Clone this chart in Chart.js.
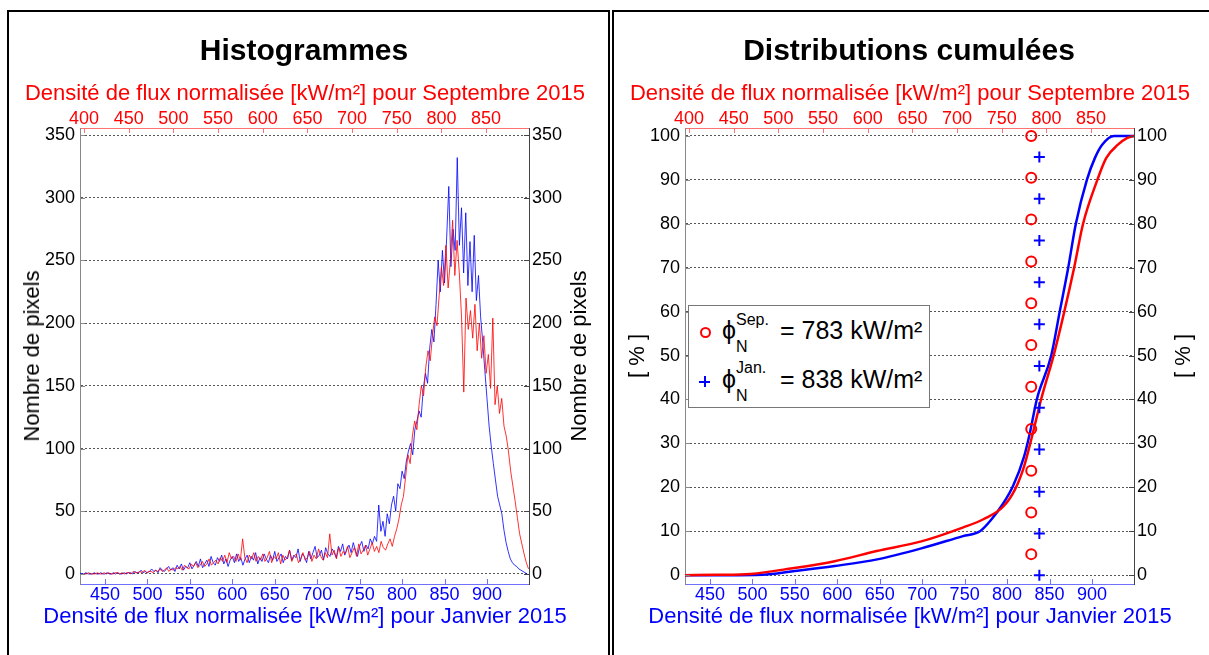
<!DOCTYPE html>
<html lang="fr">
<head>
<meta charset="UTF-8">
<title>Histogrammes et distributions cumulées</title>
<script src="https://cdn.jsdelivr.net/npm/chart.js"></script>
<style>
  body { margin: 0; width: 1209px; height: 655px; overflow: hidden; background: #fff; position: relative;
         font-family: "Liberation Sans", Arial, sans-serif; }
  .panel { position: absolute; top: 10px; height: 660px; border: 2px solid #000; box-sizing: border-box; }
  #p1 { left: 7px; width: 603px; }
  #p2 { left: 612px; width: 610px; }
  canvas { position: absolute; top: 0; }
  .txt { position: absolute; white-space: nowrap; transform: translate(-50%, -50%); }
  .main { font-size: 30px; font-weight: bold; }
  .ax { font-size: 22px; }
  .red { color: #f00; }
  .blue { color: #00f; }
  .vert { transform: translate(-50%, -50%) rotate(-90deg); }
  #legend { position: absolute; left: 688px; top: 305px; width: 242px; height: 103px; box-sizing: border-box;
            border: 1px solid #777; background: #fff; }
  #legend span { position: absolute; white-space: nowrap; line-height: 1; }
  .big { font-size: 25px; }
  .small { font-size: 16px; }
  .mk-o { width: 7px; height: 7px; border: 2px solid #f00; border-radius: 50%; }
  .mk-p { width: 11px; height: 11px; }
  .mk-p::before, .mk-p::after { content: ""; position: absolute; background: #00f; }
  .mk-p::before { left: 0; top: 4.5px; width: 11px; height: 2px; }
  .mk-p::after { left: 4.5px; top: 0; width: 2px; height: 11px; }
</style>
</head>
<body>
  <div class="panel" id="p1"></div>
  <div class="panel" id="p2"></div>

  <canvas id="histChart" width="605" height="655" style="left:0"></canvas>
  <canvas id="cumChart" width="604" height="655" style="left:605px"></canvas>

  <div class="txt main" style="left:304px; top:50px">Histogrammes</div>
  <div class="txt ax red" style="left:305px; top:93px">Densité de flux normalisée [kW/m²] pour Septembre 2015</div>
  <div class="txt ax blue" style="left:305px; top:616px">Densité de flux normalisée [kW/m²] pour Janvier 2015</div>
  <div class="txt ax vert" style="left:32px; top:356px">Nombre de pixels</div>
  <div class="txt ax vert" style="left:579px; top:356px">Nombre de pixels</div>

  <div class="txt main" style="left:909px; top:50px">Distributions cumulées</div>
  <div class="txt ax red" style="left:910px; top:93px">Densité de flux normalisée [kW/m²] pour Septembre 2015</div>
  <div class="txt ax blue" style="left:910px; top:616px">Densité de flux normalisée [kW/m²] pour Janvier 2015</div>
  <div class="txt ax vert" style="left:637px; top:356px">[ % ]</div>
  <div class="txt ax vert" style="left:1183px; top:356px">[ % ]</div>

  <div id="legend">
    <span class="mk-o" style="left:11px; top:21px"></span>
    <span class="big" style="left:33px; top:12px">ϕ</span>
    <span class="small" style="left:47px; top:6px">Sep.</span>
    <span class="small" style="left:47px; top:33px">N</span>
    <span class="big" style="left:91px; top:12px">= 783 kW/m²</span>

    <span class="mk-p" style="left:10px; top:70px"></span>
    <span class="big" style="left:33px; top:61px">ϕ</span>
    <span class="small" style="left:47px; top:54px">Jan.</span>
    <span class="small" style="left:47px; top:82px">N</span>
    <span class="big" style="left:91px; top:61px">= 838 kW/m²</span>
  </div>

<script>
  // axis ranges (top axis: Septembre 2015, bottom axis: Janvier 2015)
  const sepAxisRange = [395.5, 898];
  const janAxisRange = [420.6, 949.5];
  const sepTicks = [400, 450, 500, 550, 600, 650, 700, 750, 800, 850];
  const janTicks = [450, 500, 550, 600, 650, 700, 750, 800, 850, 900];

  // histogrammes
  const histYRange = [-8, 355.6];
  const histYTicks = [0, 50, 100, 150, 200, 250, 300, 350];
  const binWidth = 2.5;
  const sepHistStart = 400;
  const sepCounts = [
    0, 0, 1, 0, 0, 0, 1, 0, 0, 1, 0, 1, 0, 0, 1, 1, 0, 1, 0, 1,
    1, 0, 2, 1, 1, 2, 1, 3, 1, 2, 2, 1, 3, 2, 4, 2, 3, 5, 2, 4,
    3, 5, 4, 6, 3, 7, 5, 4, 8, 6, 9, 5, 7, 10, 6, 8, 12, 7, 9, 11,
    8, 13, 10, 15, 9, 17, 12, 14, 10, 16, 11, 28, 13, 9, 15, 12, 17, 10, 14, 11,
    16, 10, 13, 18, 9, 14, 12, 17, 8, 15, 11, 13, 19, 10, 14, 16, 9, 12, 17, 11,
    13, 18, 10, 15, 12, 20, 14, 11, 17, 13, 32, 15, 19, 12, 21, 14, 18, 16, 22, 13,
    17, 21, 14, 24, 16, 19, 23, 15, 20, 25, 18, 22, 17, 26, 21, 19, 24, 28, 22, 30,
    36, 44, 55, 62, 78, 95, 88, 110, 122, 115, 135, 150, 142, 165, 178, 170, 190, 205, 198, 222,
    245, 230, 262, 228, 250, 282, 238, 266, 240, 205, 145, 220, 195, 210, 188, 215, 178, 200, 172, 190,
    160, 175, 148, 204, 135, 150, 128, 140, 118, 110, 98, 82, 70, 58, 45, 32, 24, 16, 9, 4
  ];
  const janHistStart = 420;
  const janCounts = [
    1, 0, 0, 1, 0, 0, 0, 1, 0, 0, 1, 0, 0, 1, 0, 0, 1, 0, 1, 0,
    0, 1, 0, 1, 1, 0, 2, 1, 1, 3, 1, 2, 1, 2, 4, 2, 3, 1, 5, 3,
    2, 4, 6, 3, 5, 2, 7, 4, 8, 3, 6, 5, 9, 4, 7, 10, 6, 12, 5, 8,
    11, 6, 14, 9, 7, 13, 10, 15, 8, 12, 6, 11, 14, 9, 16, 10, 13, 7, 12, 15,
    9, 14, 11, 17, 8, 13, 10, 16, 12, 9, 15, 11, 18, 10, 13, 16, 9, 14, 12, 19,
    11, 15, 13, 20, 10, 16, 14, 9, 18, 12, 17, 22, 13, 15, 19, 11, 21, 16, 14, 20,
    17, 13, 22, 18, 24, 15, 20, 23, 17, 25, 19, 14, 22, 26, 18, 23, 20, 28, 24, 30,
    26, 55, 34, 42, 30, 48, 40, 55, 62, 50, 72, 68, 82, 76, 90, 98, 104, 95, 115, 122,
    130, 125, 148, 160, 152, 180, 195, 185, 215, 250, 225, 258, 232, 268, 309, 245, 275, 258, 332, 262,
    292, 240, 288, 230, 265, 225, 270, 218, 238, 205, 185, 162, 140, 118, 102, 88, 75, 62, 55, 48,
    35, 25, 18, 12, 9, 7, 6, 4, 3, 2, 1, 0
  ];

  // distributions cumulées
  const cumYRange = [-2, 101.8];
  const cumYTicks = [0, 10, 20, 30, 40, 50, 60, 70, 80, 90, 100];
  const sepCumX = [395.5, 430, 469, 516, 563, 610, 660, 707, 730, 752, 765, 775, 784, 794, 808, 820, 831, 841, 857, 867, 880, 890, 898];
  const sepCumY = [0, 0.1, 0.3, 1.6, 3.2, 5.5, 7.7, 10.9, 12.8, 15.7, 19.6, 24.8, 31.7, 40, 50, 60, 70, 80, 90, 95, 98, 99.5, 100];
  const janCumX = [420.6, 470, 512, 548, 597, 647, 699, 748, 768, 782, 795, 807, 820, 827, 835, 852, 862, 872, 881, 894, 903.5, 912, 926, 949.5];
  const janCumY = [0, 0, 0.1, 0.9, 2.1, 3.6, 6.1, 8.9, 10, 12.8, 16.2, 20.3, 27, 32.5, 40, 50, 60, 70, 80, 90, 95, 98, 100, 100];
  const sepMean = 783;
  const janMean = 838;
  const sepMarkerY = [100, 90.5, 81, 71.4, 61.9, 52.4, 42.9, 33.3, 23.8, 14.3, 4.8];
  const janMarkerY = [95.2, 85.7, 76.2, 66.7, 57.1, 47.6, 38.1, 28.6, 19, 9.5, 0];

  const FONT = '"Liberation Sans", Arial, sans-serif';
  Chart.defaults.font.family = FONT;
  Chart.defaults.color = '#000';

  // MATLAB-style tick marks pointing into the plot
  const innerTicks = {
    id: 'innerTicks',
    afterDraw(chart) {
      const { ctx, chartArea: a } = chart;
      ctx.save();
      ctx.lineWidth = 1;
      Object.values(chart.scales).forEach(s => {
        ctx.strokeStyle = s.options.border.color;
        s.ticks.forEach(t => {
          const p = Math.round(s.getPixelForValue(t.value)) + 0.5;
          ctx.beginPath();
          if (s.position === 'top') { ctx.moveTo(p, a.top); ctx.lineTo(p, a.top + 5); }
          else if (s.position === 'bottom') { ctx.moveTo(p, a.bottom); ctx.lineTo(p, a.bottom - 5); }
          else if (s.position === 'left') { ctx.moveTo(a.left, p); ctx.lineTo(a.left + 5, p); }
          else { ctx.moveTo(a.right, p); ctx.lineTo(a.right - 5, p); }
          ctx.stroke();
        });
      });
      ctx.restore();
    }
  };

  function makeScales(yRange, yTicks, rightWidth) {
    return {
      xTop: {
        type: 'linear', position: 'top', min: sepAxisRange[0], max: sepAxisRange[1],
        afterBuildTicks: s => { s.ticks = sepTicks.map(v => ({ value: v })); },
        afterFit: s => { s.height = 128; },
        ticks: { color: '#f00', font: { size: 18, lineHeight: 1 }, padding: 0, autoSkip: false, maxRotation: 0 },
        grid: { display: false, drawTicks: false },
        border: { color: '#ff7070' }
      },
      x: {
        type: 'linear', position: 'bottom', min: janAxisRange[0], max: janAxisRange[1],
        afterBuildTicks: s => { s.ticks = janTicks.map(v => ({ value: v })); },
        afterFit: s => { s.height = 71; },
        ticks: { color: '#00f', font: { size: 18, lineHeight: 1 }, padding: 2, autoSkip: false, maxRotation: 0 },
        grid: { display: false, drawTicks: false },
        border: { color: '#7070ff' }
      },
      y: {
        type: 'linear', position: 'left', min: yRange[0], max: yRange[1],
        afterBuildTicks: s => { s.ticks = yTicks.map(v => ({ value: v })); },
        afterFit: s => { s.width = 80; },
        ticks: { color: '#000', font: { size: 18, lineHeight: 1 }, padding: 5, autoSkip: false },
        grid: { color: '#555', drawTicks: false, lineWidth: 1 },
        border: { color: '#888', dash: [2, 2] }
      },
      yR: {
        type: 'linear', position: 'right', min: yRange[0], max: yRange[1],
        afterBuildTicks: s => { s.ticks = yTicks.map(v => ({ value: v })); },
        afterFit: s => { s.width = rightWidth; },
        ticks: { color: '#000', font: { size: 18, lineHeight: 1 }, padding: 3, autoSkip: false },
        grid: { display: false, drawTicks: false },
        border: { color: '#444' }
      }
    };
  }

  const commonOptions = {
    responsive: false,
    animation: false,
    layout: { padding: 0 },
    plugins: { legend: { display: false }, tooltip: { enabled: false } }
  };

  const sepHist = sepCounts.map((v, i) => ({ x: sepHistStart + i * binWidth, y: v }));
  const janHist = janCounts.map((v, i) => ({ x: janHistStart + i * binWidth, y: v }));

  new Chart(document.getElementById('histChart'), {
    type: 'line',
    data: {
      datasets: [
        { label: 'Septembre 2015', xAxisID: 'xTop', data: sepHist,
          borderColor: 'rgba(255,0,0,0.8)', borderWidth: 1, pointRadius: 0 },
        { label: 'Janvier 2015', xAxisID: 'x', data: janHist,
          borderColor: 'rgba(0,0,255,0.8)', borderWidth: 1, pointRadius: 0 }
      ]
    },
    options: { ...commonOptions, scales: makeScales(histYRange, histYTicks, 76) },
    plugins: [innerTicks]
  });

  new Chart(document.getElementById('cumChart'), {
    type: 'line',
    data: {
      datasets: [
        { label: 'ϕN Sep.', xAxisID: 'xTop', data: sepMarkerY.map(v => ({ x: sepMean, y: v })),
          showLine: false, pointStyle: 'circle', pointRadius: 5, borderWidth: 2,
          borderColor: '#f00', backgroundColor: 'rgba(0,0,0,0)' },
        { label: 'ϕN Jan.', xAxisID: 'x', data: janMarkerY.map(v => ({ x: janMean, y: v })),
          showLine: false, pointStyle: 'cross', pointRadius: 5.5, borderWidth: 2,
          borderColor: '#00f', backgroundColor: '#00f' },
        { label: 'Septembre 2015', xAxisID: 'xTop', data: sepCumX.map((x, i) => ({ x, y: sepCumY[i] })),
          borderColor: '#f00', borderWidth: 2.5, pointRadius: 0, cubicInterpolationMode: 'monotone' },
        { label: 'Janvier 2015', xAxisID: 'x', data: janCumX.map((x, i) => ({ x, y: janCumY[i] })),
          borderColor: '#00f', borderWidth: 2.5, pointRadius: 0, cubicInterpolationMode: 'monotone' }
      ]
    },
    options: { ...commonOptions, scales: makeScales(cumYRange, cumYTicks, 75) },
    plugins: [innerTicks]
  });
</script>
</body>
</html>
